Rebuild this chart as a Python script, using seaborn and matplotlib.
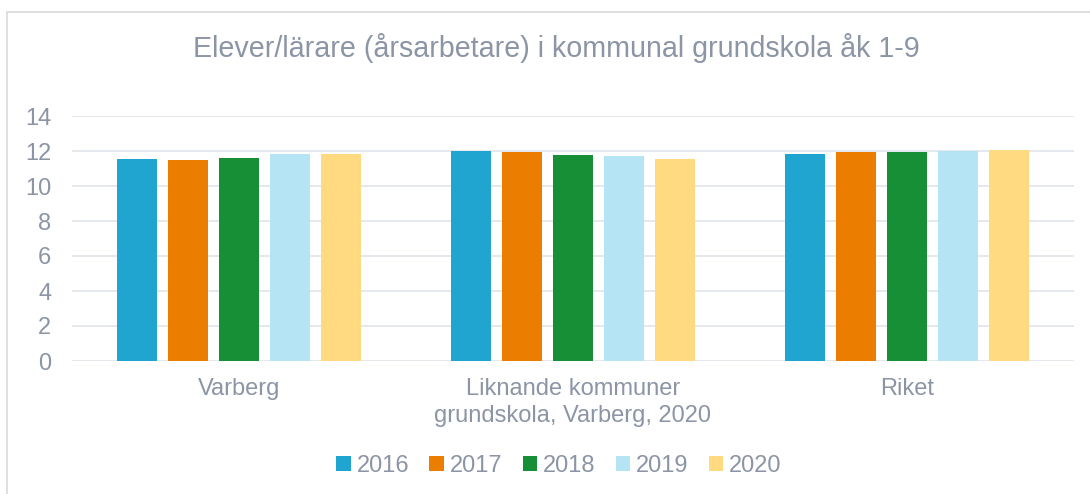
import matplotlib
matplotlib.use("Agg")
import matplotlib.pyplot as plt
import seaborn as sns
import pandas as pd
from matplotlib.patches import Rectangle

categories = ["Varberg", "Liknande kommuner\ngrundskola, Varberg, 2020", "Riket"]
years = ["2016", "2017", "2018", "2019", "2020"]
values = {
    "2016": [11.53, 12.00, 11.83],
    "2017": [11.47, 11.94, 11.92],
    "2018": [11.62, 11.79, 11.94],
    "2019": [11.83, 11.71, 12.00],
    "2020": [11.81, 11.54, 12.04],
}
colors = ["#1FA5CF", "#EB7D00", "#168F36", "#B5E5F5", "#FFDA80"]
title = "Elever/lärare (årsarbetare) i kommunal grundskola åk 1-9"

rows = []
for y in years:
    for c, v in zip(categories, values[y]):
        rows.append({"cat": c, "year": y, "val": v})
df = pd.DataFrame(rows)

sns.set_theme(style="white")
plt.rcParams["font.family"] = ["Liberation Sans", "DejaVu Sans"]
txt = "#8C95A5"

fig = plt.figure(figsize=(10.9, 4.94), dpi=100)
ax = fig.add_axes([72/1090, 1-361/494, (1074-72)/1090, (361-116)/494])

sns.barplot(data=df, x="cat", y="val", hue="year", order=categories,
            hue_order=years, palette=colors, width=0.765, gap=0.21,
            ax=ax, saturation=1, legend=True, edgecolor="none")

ax.set_ylim(0, 14)
ax.set_yticks(range(0, 15, 2))
ax.set_xlim(-0.5, 2.5)
ax.yaxis.grid(True, color="#E3E6EA", linewidth=1.3)
ax.set_axisbelow(True)
for s in ax.spines.values():
    s.set_visible(False)
ax.set_xlabel("")
ax.set_ylabel("")
ax.tick_params(axis="y", colors=txt, labelsize=17, pad=15, length=0)
ax.tick_params(axis="x", colors=txt, labelsize=17, pad=12, length=0)
for lab in ax.get_xticklabels():
    lab.set_linespacing(1.3)

fig.text(556/1090, 1-48/494, title, ha="center", va="center",
         fontsize=20.6, color=txt)

leg = ax.legend(loc="center", bbox_to_anchor=(559/1090, 1-466/494),
                bbox_transform=fig.transFigure, ncol=5, frameon=False,
                fontsize=17, handlelength=0.62, handleheight=0.62,
                handletextpad=0.25, columnspacing=0.85, labelcolor=txt)

fig.patches.append(Rectangle((7/1090, -0.1), 1.2, (1-12/494)+0.1,
                             transform=fig.transFigure, fill=False,
                             edgecolor="#D9D9D9", linewidth=1.2))

fig.savefig("out.png", dpi=100, facecolor="white")
